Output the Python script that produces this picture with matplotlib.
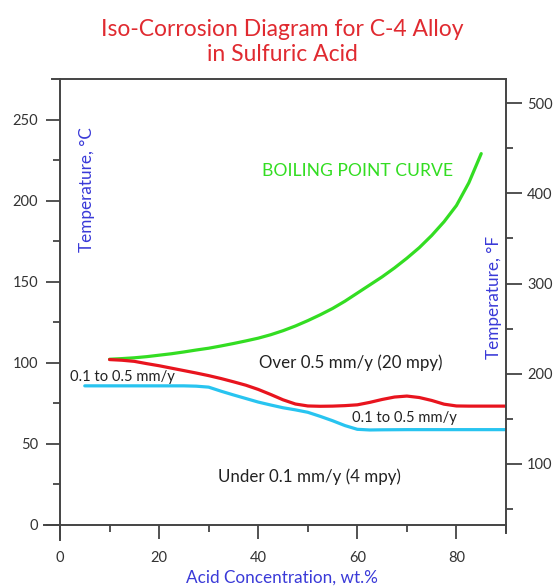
import matplotlib
matplotlib.use("Agg")
import matplotlib.pyplot as plt
from matplotlib.ticker import FixedLocator

plt.rcParams['font.family'] = ['Lato', 'DejaVu Sans']

# Data
green_x = [10, 12.5, 15, 17.5, 20, 22.5, 25, 27.5, 30, 32.5, 35, 37.5, 40, 42.5, 45, 47.5,
           50, 52.5, 55, 57.5, 60, 62.5, 65, 67.5, 70, 72.5, 75, 77.5, 80, 82.5, 85]
green_y = [102.2, 102.6, 103.1, 103.8, 104.7, 105.6, 106.7, 107.9, 109, 110.4, 111.9, 113.5,
           115.2, 117.3, 119.8, 122.7, 126, 129.6, 133.5, 138, 143, 148, 153, 158.5, 164.5,
           171, 178.5, 187, 197, 211, 229]

red_x = [10, 12.5, 15, 17.5, 20, 22.5, 25, 27.5, 30, 32.5, 35, 37.5, 40, 42.5, 45, 47.5,
         50, 52.5, 55, 57.5, 60, 62.5, 65, 67.5, 70, 72.5, 75, 77.5, 80, 82.5, 85, 87.5, 90]
red_y = [102, 101.6, 100.9, 99.5, 98.2, 96.7, 95.2, 93.7, 92.1, 90.3, 88.3, 86.2, 83.6,
         80.5, 77.2, 74.6, 73.4, 73.2, 73.3, 73.6, 74.1, 75.6, 77.4, 78.9, 79.5, 78.6, 76.8,
         74.5, 73.4, 73.3, 73.3, 73.3, 73.3]

blue_x = [5, 10, 15, 20, 25, 27.5, 30, 32.5, 35, 37.5, 40, 42.5, 45, 47.5, 50, 52.5, 55,
          57.5, 60, 62.5, 65, 70, 75, 80, 85, 90]
blue_y = [85.8, 85.8, 85.8, 85.8, 85.8, 85.6, 85, 82.5, 80.2, 78, 75.8, 74, 72.3, 71, 69.5,
          67, 64.3, 61.3, 59, 58.6, 58.7, 58.8, 58.8, 58.8, 58.8, 58.8]

x_ticks = [0, 20, 40, 60, 80]
c_ticks = [0, 50, 100, 150, 200, 250]
f_ticks = [100, 200, 300, 400, 500]

W, H = 554, 586
PX = 72 / 100  # points per pixel
fig = plt.figure(figsize=(W / 100, H / 100), dpi=100)
ax = fig.add_axes([60 / W, 1 - 525 / H, (506 - 60) / W, (525 - 79) / H])

xmin, xmax = 0, 90
ymin, ymax = 0, 275
ax.set_xlim(xmin, xmax)
ax.set_ylim(ymin, ymax)

GREEN = '#33dd22'
RED = '#e8141e'
BLUE = '#28c4f0'
for xs, ys, c in [(green_x, green_y, GREEN), (red_x, red_y, RED), (blue_x, blue_y, BLUE)]:
    ax.plot(xs, ys, color=c, lw=2.3, solid_capstyle='round', solid_joinstyle='round')

spc = '#444444'
for s in ['left', 'bottom', 'top', 'right']:
    ax.spines[s].set_color(spc)
    ax.spines[s].set_linewidth(1.4)
ax.spines['right'].set_visible(False)
ax.spines['bottom'].set_bounds(-3.2, 90)
ax.spines['left'].set_bounds(-9, 275)
ax.spines['top'].set_bounds(-1.6, 90)

ax.xaxis.set_major_locator(FixedLocator(x_ticks))
ax.xaxis.set_minor_locator(FixedLocator([10, 30, 50, 70, 90]))
ax.yaxis.set_major_locator(FixedLocator(c_ticks))
ax.yaxis.set_minor_locator(FixedLocator([25, 75, 125, 175, 225]))
ax.tick_params(which='major', length=14 * PX, width=1.3, color=spc, labelsize=10.5,
               labelcolor='#333333')
ax.tick_params(which='minor', length=7 * PX, width=1.3, color=spc)
ax.tick_params(axis='x', which='major', pad=12 * PX)
ax.tick_params(axis='y', which='major', pad=8 * PX)
ax.tick_params(axis='x', which='both', top=False)
ax.tick_params(axis='y', which='both', right=False)

ax2 = ax.twinx()
ax2.set_ylim(32 + 1.8 * ymin, 32 + 1.8 * ymax)
for s in ['left', 'bottom', 'top']:
    ax2.spines[s].set_visible(False)
ax2.spines['right'].set_color(spc)
ax2.spines['right'].set_linewidth(1.4)
ax2.spines['right'].set_bounds(32 + 1.8 * (-5), 32 + 1.8 * ymax)
ax2.yaxis.set_major_locator(FixedLocator(f_ticks))
ax2.yaxis.set_minor_locator(FixedLocator([50, 150, 250, 350, 450]))
ax2.tick_params(which='major', length=16 * PX, width=1.3, color=spc, labelsize=10.5,
                labelcolor='#333333', pad=5 * PX)
ax2.tick_params(which='minor', length=7 * PX, width=1.3, color=spc)

# Texts
fig.text(282 / W, 1 - 42 / H, 'Iso-Corrosion Diagram for C-4 Alloy\nin Sulfuric Acid',
         ha='center', va='center', color='#e02a30', fontsize=16.5, linespacing=1.25)
AXBLUE = '#3a3ad8'
fig.text(87 / W, 1 - 190 / H, 'Temperature, °C', rotation=90, ha='center', va='center',
         color=AXBLUE, fontsize=12.3)
fig.text(494 / W, 1 - 297 / H, 'Temperature, °F', rotation=90, ha='center', va='center',
         color=AXBLUE, fontsize=12.3)
fig.text(282 / W, 1 - 578 / H, 'Acid Concentration, wt.%', ha='center', va='center',
         color=AXBLUE, fontsize=12.3)

ax.text(60, 218.5, 'BOILING POINT CURVE', ha='center', va='center', color=GREEN, fontsize=12.6)
ax.text(58.7, 100, 'Over 0.5 mm/y (20 mpy)', ha='center', va='center', color='#222222',
        fontsize=12.2)
ax.text(2, 91, '0.1 to 0.5 mm/y', ha='left', va='center', color='#222222', fontsize=10.6)
ax.text(58.9, 66, '0.1 to 0.5 mm/y', ha='left', va='center', color='#222222', fontsize=10.6)
ax.text(50.4, 29.6, 'Under 0.1 mm/y (4 mpy)', ha='center', va='center', color='#222222',
        fontsize=12.2)

fig.savefig('out.png', dpi=100)
